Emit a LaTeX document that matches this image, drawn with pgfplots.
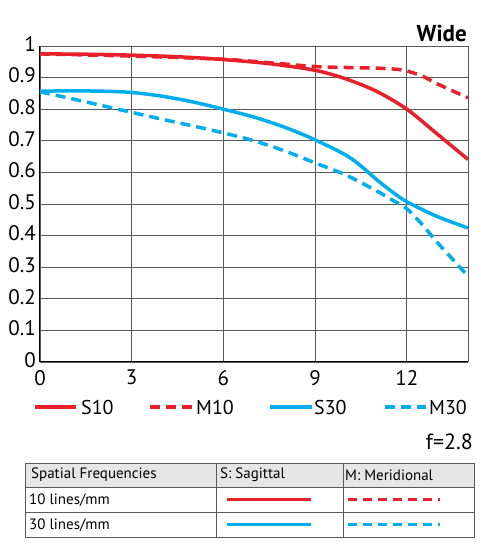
\documentclass[border=0pt]{standalone}
\usepackage{pgfplots}
\pgfplotsset{compat=1.18}
\usepackage{fontspec}
\setmainfont{PT Sans}
\definecolor{mred}{HTML}{E8202A}
\definecolor{mblue}{HTML}{00AEEF}
\definecolor{gridc}{HTML}{5A5A5A}
\definecolor{hdr}{HTML}{E6E6E6}
\begin{document}
\begin{tikzpicture}[x=1pt,y=1pt]
\path[use as bounding box] (0,0) rectangle (480,556);
\begin{axis}[at={(40pt,194pt)}, anchor=south west, scale only axis,
  width=428pt, height=316pt, xmin=0, xmax=14, ymin=0, ymax=1,
  xtick={0,3,6,9,12}, ytick={0,0.1,0.2,0.3,0.4,0.5,0.6,0.7,0.8,0.9,1},
  yticklabels={0,0.1,0.2,0.3,0.4,0.5,0.6,0.7,0.8,0.9,1},
  grid=major, major grid style={gridc, line width=0.8pt},
  axis line style={black, line width=1pt},
  axis x line*=bottom, axis y line*=left,
  tick style={draw=none},
  ticklabel style={font=\fontsize{21}{21}\selectfont, inner sep=1pt},
  /pgf/number format/assume math mode=true,
  yticklabel style={xshift=-3pt, yshift=2pt},
  xticklabel style={yshift=-7pt},
  clip=false]
\draw[gridc, line width=0.8pt] (axis cs:0,1) -- (axis cs:14,1) -- (axis cs:14,0);
\addplot[mred, line width=3.5pt, smooth] coordinates {
(0,0.975) (1.5,0.974) (3,0.971) (4.5,0.966) (6,0.957) (7.5,0.944) (9,0.923) (10,0.896) (11,0.857) (12,0.80) (13,0.721) (14,0.641)};
\addplot[mred, line width=3.5pt, dash pattern=on 10pt off 6pt, smooth] coordinates {
(0,0.975) (3,0.968) (6,0.958) (7.5,0.947) (9,0.935) (10,0.932) (11,0.930) (11.7,0.926) (12,0.921) (12.5,0.905) (13,0.88) (14,0.836)};
\addplot[mblue, line width=3.5pt, smooth] coordinates {
(0,0.857) (1,0.858) (2,0.857) (3,0.853) (4,0.841) (5,0.823) (6,0.80) (7,0.775) (8,0.743) (9,0.703) (10,0.655) (10.5,0.62) (11,0.578) (11.5,0.54) (12,0.507) (13,0.46) (14,0.424)};
\addplot[mblue, line width=3.5pt, dash pattern=on 10pt off 6pt, smooth] coordinates {
(0,0.855) (1,0.834) (2,0.812) (3,0.79) (4,0.768) (5,0.747) (6,0.725) (7,0.70) (8,0.668) (9,0.630) (10,0.592) (11,0.542) (11.5,0.514) (12,0.485) (12.5,0.435) (13,0.378) (14,0.272)};
\end{axis}
% title
\node[anchor=east, inner sep=0, font=\fontsize{23}{23}\selectfont\bfseries] at (467,523) {Wide};
% legend
\begin{scope}[font=\fontsize{20}{20}\selectfont]
\draw[mred, line width=3.5pt] (35,149) -- (76,149);
\node[anchor=west, inner sep=0] at (81,148) {S10};
\draw[mred, line width=3.5pt, dash pattern=on 10pt off 6pt] (150,149) -- (192,149);
\node[anchor=west, inner sep=0] at (196,148) {M10};
\draw[mblue, line width=3.5pt] (270,149) -- (312,149);
\node[anchor=west, inner sep=0] at (314,148) {S30};
\draw[mblue, line width=3.5pt, dash pattern=on 10pt off 6pt] (385,149) -- (426,149);
\node[anchor=west, inner sep=0] at (429,148) {M30};
\end{scope}
\node[anchor=east, inner sep=0, font=\fontsize{22}{22}\selectfont] at (473,114) {f=2.8};
% table
\fill[hdr] (25,93) rectangle (474,69);
\draw[gridc, line width=0.8pt] (25,19) rectangle (474,93);
\draw[gridc, line width=0.8pt] (25,69) -- (474,69) (25,44) -- (474,44) (216,19) -- (216,93) (343,19) -- (343,93);
\begin{scope}[font=\fontsize{15}{15}\selectfont]
\node[anchor=west, inner sep=0] at (31,81) {Spatial Frequencies};
\node[anchor=west, inner sep=0] at (220,81) {S: Sagittal};
\node[anchor=west, inner sep=0] at (345,81) {M: Meridional};
\node[anchor=west, inner sep=0] at (29,56) {10 lines/mm};
\node[anchor=west, inner sep=0] at (29,31) {30 lines/mm};
\end{scope}
\draw[mred, line width=3pt] (227,56) -- (311,56);
\draw[mred, line width=3pt, dash pattern=on 9pt off 6pt] (348,56) -- (440,56);
\draw[mblue, line width=3pt] (227,31) -- (311,31);
\draw[mblue, line width=3pt, dash pattern=on 9pt off 6pt] (348,31) -- (440,31);
\end{tikzpicture}
\end{document}
